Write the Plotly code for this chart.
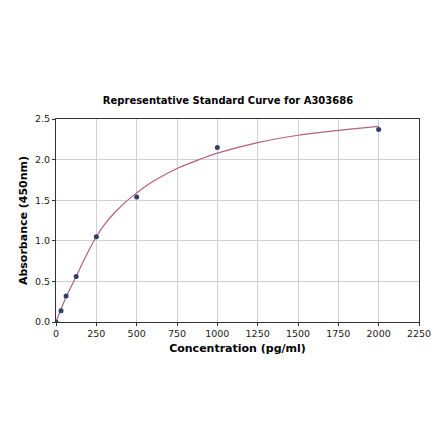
import plotly.graph_objects as go

# standards (pg/ml) and measured absorbance
conc = [0, 31.25, 62.5, 125, 250, 500, 1000, 2000]
absorb = [0.0, 0.14, 0.32, 0.56, 1.05, 1.54, 2.15, 2.37]

# fitted curve
fit_x = [0, 15, 31.25, 50, 62.5, 100, 125, 175, 250, 300, 375, 450, 500, 600, 750, 900,
         1000, 1250, 1500, 1750, 2000]
fit_y = [0.0, 0.08, 0.16, 0.25, 0.31, 0.46, 0.56, 0.77, 1.05, 1.2, 1.37, 1.51, 1.59, 1.73,
         1.89, 2.01, 2.08, 2.21, 2.30, 2.36, 2.41]

fig = go.Figure()
fig.add_trace(go.Scatter(x=fit_x, y=fit_y, mode="lines", line_shape="spline",
                         line=dict(color="#b5607f", width=1.2), hoverinfo="skip"))
fig.add_trace(go.Scatter(x=conc, y=absorb, mode="markers",
                         marker=dict(color="#2f4068", size=5)))

axis = dict(showline=True, mirror=True, linecolor="#333", linewidth=1,
            showgrid=True, gridcolor="#d0d0d0", gridwidth=1, zeroline=False,
            ticks="outside", ticklen=3, tickcolor="#333",
            tickfont=dict(size=9.5, color="#222"))

fig.update_layout(
    width=440, height=441,
    margin=dict(l=48, r=29, t=111, b=127),
    paper_bgcolor="white", plot_bgcolor="white",
    font=dict(family="DejaVu Sans", color="#000"),
    showlegend=False,
    title=dict(text="<b>Representative Standard Curve for A303686</b>",
               x=0.5, xanchor="center", y=0.79, yanchor="middle",
               font=dict(size=10)),
    xaxis=dict(axis, range=[0, 2250], tickvals=list(range(0, 2251, 250)),
               title=dict(text="<b>Concentration (pg/ml)</b>", font=dict(size=11), standoff=5)),
    yaxis=dict(axis, range=[0, 2.5], tickvals=[0, 0.5, 1, 1.5, 2, 2.5],
               tickformat=".1f",
               title=dict(text="<b>Absorbance (450nm)</b>", font=dict(size=11), standoff=5)),
)

fig.write_html("out.html")
